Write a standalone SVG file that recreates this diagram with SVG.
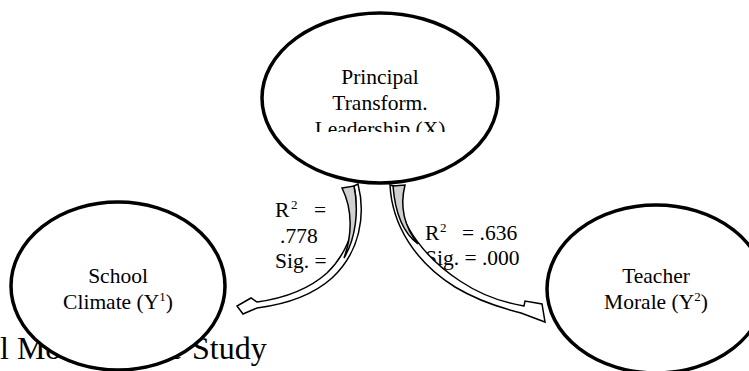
<svg xmlns="http://www.w3.org/2000/svg" width="749" height="371" viewBox="0 0 749 371">
<style>
text{font-family:"Liberation Serif","Times New Roman",serif;fill:#000}
.node{fill:#fff;stroke:#000;stroke-width:3.5}
.nt{font-size:21.5px;text-anchor:middle}
.lbl{font-size:21.5px}
.sup{font-size:13px}
.band{fill:#fff;stroke:#000;stroke-width:1.5;stroke-linejoin:miter}
.shade{fill:#d0d0d0;stroke:#000;stroke-width:1.5}
</style>
<defs>
<clipPath id="clipX"><rect x="260" y="0" width="240" height="132"/></clipPath>
</defs>
<text x="0" y="359" font-size="32">l Model of the <tspan x="192">Study</tspan></text>
<g id="school">
<ellipse class="node" cx="118" cy="286" rx="107" ry="84"/>
<text class="nt" x="118" y="283">School</text>
<text class="nt" x="118" y="309">Climate (Y<tspan class="sup" dy="-8">1</tspan><tspan dy="8">)</tspan></text>
</g>
<g id="teacher">
<ellipse class="node" cx="656" cy="289" rx="109" ry="84"/>
<text class="nt" x="656" y="283">Teacher</text>
<text class="nt" x="656" y="309">Morale (Y<tspan class="sup" dy="-8">2</tspan><tspan dy="8">)</tspan></text>
</g>
<g id="labels">
<text class="lbl" x="275" y="217">R<tspan class="sup" x="291" y="209">2</tspan><tspan x="314" y="217">=</tspan></text>
<text class="lbl" x="280" y="243">.778</text>
<text class="lbl" x="275" y="268">Sig. =</text>
<text class="lbl" x="425" y="240">R<tspan class="sup" x="440" y="232">2</tspan><tspan x="462" y="240">= .636</tspan></text>
<text class="lbl" x="425" y="265">Sig. = .000</text>
</g>
<g id="connectors">
<path class="band" d="M358 184 C366 215 360 252 332 278 C313 295 288 304 257 308 L243 314 L237 306 L251 298 L257 302 C286 298 309 289 327 273 C351 250 360 214 354 186 Z"/>
<path class="shade" d="M342 188 L354 186 C359 210 356 238 344 258 C352 236 353 210 342 188 Z"/>
<path class="band" d="M390 185 C392 225 415 262 455 287 C480 302 505 309 521 313 L545 322 L542 304 L525 301 L524 306 C500 302 478 293 460 281 C428 260 400 228 394 186 Z"/>
<path class="shade" d="M393 186 L405 185 C400 205 403 225 418 244 C402 232 395 212 393 186 Z"/>
</g>
<g id="principal">
<ellipse class="node" cx="380" cy="98" rx="118" ry="85"/>
<g clip-path="url(#clipX)">
<text class="nt" x="380" y="84">Principal</text>
<text class="nt" x="380" y="110">Transform.</text>
<text class="nt" x="380" y="136">Leadership (X)</text>
</g>
</g>
</svg>
